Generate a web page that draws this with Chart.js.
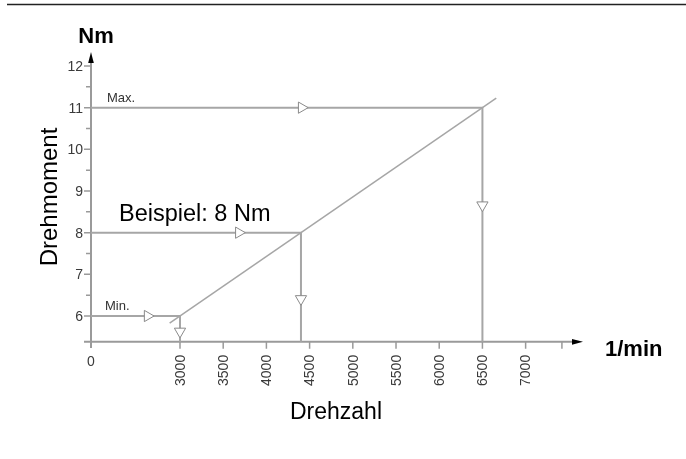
<!DOCTYPE html>
<html>
<head>
<meta charset="utf-8">
<script src="https://cdn.jsdelivr.net/npm/chart.js@4/dist/chart.umd.min.js"></script>
<style>
  html, body { margin: 0; background: #fff; }
  canvas { display: block; }
</style>
</head>
<body>
<canvas id="chart" width="686" height="459"></canvas>
<script>
(function () {
  'use strict';

  // --- data ---
  var RPM_TICKS = [3000, 3500, 4000, 4500, 5000, 5500, 6000, 6500, 7000];
  var RPM_EXTRA_TICKS = [7420];
  var NM_TICKS = [6, 7, 8, 9, 10, 11, 12];
  var NM_MINOR_TICKS = [6.5, 7.5, 8.5, 9.5, 10.5, 11.5];
  var AXIS_RPM0 = 1970;   // broken x axis: the "0" sits here
  var AXIS_NM0 = 5.38;    // height of the x axis

  var CASE_LABELS = ['Min.', 'Beispiel: 8 Nm', 'Max.'];
  var CASE_RPM = [3000, 4400, 6500];
  var CASE_NM = [6, 8, 11];
  var H_ARROW_RPM = [2625, 3681, 4408];
  var V_ARROW_NM = [5.63, 6.41, 8.66];

  var CURVE_RPM = [2880, 6660];
  var CURVE_NM = [5.83, 11.23];

  var LINE_GREY = '#a6a6a6';
  var AXIS_GREY = '#9a9a9a';
  var FONT = '"Liberation Sans", Arial, Helvetica, sans-serif';

  // label placement relative to the left end of each case line
  var CASE_LABEL_STYLE = [
    { dx: 14, dy: -6, size: 13, color: '#333' },
    { dx: 28, dy: -12, size: 23.5, color: '#000' },
    { dx: 16, dy: -6, size: 13, color: '#333' }
  ];

  var datasets = [];

  // open arrow heads on the case lines
  var arrowPts = [];
  var arrowRot = [];
  H_ARROW_RPM.forEach(function (r, i) { arrowPts.push({ x: r, y: CASE_NM[i] }); arrowRot.push(90); });
  CASE_RPM.forEach(function (r, i) { arrowPts.push({ x: r, y: V_ARROW_NM[i] }); arrowRot.push(180); });
  datasets.push({
    data: arrowPts,
    showLine: false,
    pointStyle: 'triangle',
    pointRotation: arrowRot,
    pointRadius: 6.5,
    pointBackgroundColor: '#fff',
    pointBorderColor: '#8a8a8a',
    pointBorderWidth: 1,
    order: 0
  });

  // torque curve
  datasets.push({
    data: CURVE_RPM.map(function (r, i) { return { x: r, y: CURVE_NM[i] }; }),
    showLine: true,
    borderColor: LINE_GREY,
    borderWidth: 1.5,
    pointRadius: 0,
    order: 1
  });

  // case lines: from torque axis across, then down to the rpm axis
  CASE_RPM.forEach(function (r, i) {
    datasets.push({
      data: [
        { x: AXIS_RPM0, y: CASE_NM[i] },
        { x: r, y: CASE_NM[i] },
        { x: r, y: AXIS_NM0 }
      ],
      showLine: true,
      borderColor: LINE_GREY,
      borderWidth: 2,
      pointRadius: 0,
      order: 1
    });
  });

  function arrowHead(ctx, tipX, tipY, dir) {
    ctx.beginPath();
    if (dir === 'up') {
      ctx.moveTo(tipX, tipY);
      ctx.lineTo(tipX - 2.8, tipY + 11);
      ctx.lineTo(tipX + 2.8, tipY + 11);
    } else {
      ctx.moveTo(tipX, tipY);
      ctx.lineTo(tipX - 11, tipY - 2.8);
      ctx.lineTo(tipX - 11, tipY + 2.8);
    }
    ctx.closePath();
    ctx.fillStyle = '#000';
    ctx.fill();
  }

  var axesPlugin = {
    id: 'brokenAxes',
    beforeDatasetsDraw: function (chart) {
      var ctx = chart.ctx;
      var xs = chart.scales.x, ys = chart.scales.y;
      var area = chart.chartArea;
      var x0 = xs.getPixelForValue(AXIS_RPM0);
      var y0 = ys.getPixelForValue(AXIS_NM0);
      ctx.save();

      // rule at the top of the page
      ctx.strokeStyle = '#222';
      ctx.lineWidth = 1.5;
      ctx.beginPath();
      ctx.moveTo(7, 4.5);
      ctx.lineTo(686, 4.5);
      ctx.stroke();

      ctx.strokeStyle = AXIS_GREY;
      ctx.lineWidth = 2;
      ctx.beginPath();
      ctx.moveTo(area.left, y0);
      ctx.lineTo(area.right - 8, y0);
      ctx.moveTo(x0, area.bottom);
      ctx.lineTo(x0, area.top + 8);
      ctx.stroke();

      ctx.lineWidth = 1.5;
      ctx.beginPath();
      NM_TICKS.forEach(function (v) {
        var y = ys.getPixelForValue(v);
        ctx.moveTo(x0 - 7, y);
        ctx.lineTo(x0, y);
      });
      NM_MINOR_TICKS.forEach(function (v) {
        var y = ys.getPixelForValue(v);
        ctx.moveTo(x0 - 5, y);
        ctx.lineTo(x0, y);
      });
      RPM_TICKS.concat(RPM_EXTRA_TICKS).forEach(function (v) {
        var x = xs.getPixelForValue(v);
        ctx.moveTo(x, y0);
        ctx.lineTo(x, y0 + 7);
      });
      ctx.stroke();

      arrowHead(ctx, x0, area.top, 'up');
      arrowHead(ctx, area.right, y0, 'right');

      // tick labels
      ctx.fillStyle = '#3a3a3a';
      ctx.font = '14px ' + FONT;
      ctx.textAlign = 'right';
      ctx.textBaseline = 'middle';
      NM_TICKS.forEach(function (v) {
        ctx.fillText(String(v), x0 - 8, ys.getPixelForValue(v) + 1);
      });
      ctx.textAlign = 'center';
      ctx.textBaseline = 'top';
      ctx.fillText('0', x0, y0 + 13);
      RPM_TICKS.forEach(function (v) {
        ctx.save();
        ctx.translate(xs.getPixelForValue(v), y0 + 13);
        ctx.rotate(-Math.PI / 2);
        ctx.textAlign = 'right';
        ctx.textBaseline = 'middle';
        ctx.fillText(String(v), 0, 1);
        ctx.restore();
      });
      ctx.restore();
    },
    afterDraw: function (chart) {
      var ctx = chart.ctx;
      var xs = chart.scales.x, ys = chart.scales.y;
      var x0 = xs.getPixelForValue(AXIS_RPM0);
      var y0 = ys.getPixelForValue(AXIS_NM0);
      ctx.save();
      ctx.textBaseline = 'alphabetic';
      ctx.textAlign = 'left';
      CASE_LABELS.forEach(function (t, i) {
        var st = CASE_LABEL_STYLE[i];
        ctx.fillStyle = st.color;
        ctx.font = st.size + 'px ' + FONT;
        ctx.fillText(t, x0 + st.dx, ys.getPixelForValue(CASE_NM[i]) + st.dy);
      });

      // axis names and units
      ctx.fillStyle = '#000';
      ctx.font = 'bold 22px ' + FONT;
      ctx.textAlign = 'center';
      ctx.fillText('Nm', x0 + 5, 43);
      ctx.textAlign = 'left';
      ctx.fillText('1/min', chart.chartArea.right + 22, y0 + 14);

      ctx.font = '23px ' + FONT;
      ctx.textAlign = 'center';
      ctx.fillText('Drehzahl', 336, 419);

      ctx.save();
      ctx.translate(57, 197);
      ctx.rotate(-Math.PI / 2);
      ctx.font = '24px ' + FONT;
      ctx.fillText('Drehmoment', 0, 0);
      ctx.restore();
      ctx.restore();
    }
  };

  new Chart(document.getElementById('chart'), {
    type: 'scatter',
    data: { datasets: datasets },
    options: {
      responsive: false,
      animation: false,
      events: [],
      layout: { padding: { left: 84, right: 103, top: 52, bottom: 111 } },
      plugins: { legend: { display: false }, tooltip: { enabled: false } },
      scales: {
        x: { type: 'linear', display: false, min: 1889, max: 7664 },
        y: { type: 'linear', display: false, min: 5.232, max: 12.336 }
      }
    },
    plugins: [axesPlugin]
  });
})();
</script>
</body>
</html>
